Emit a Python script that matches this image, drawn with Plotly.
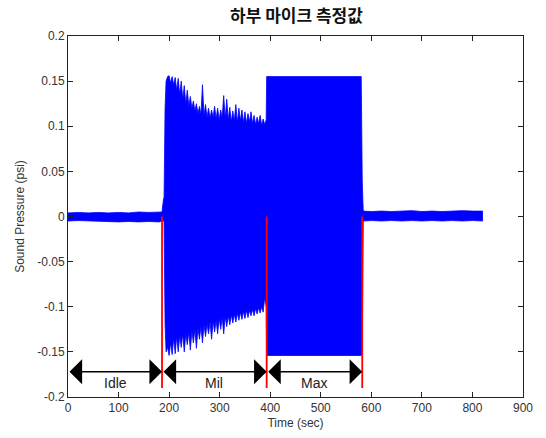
import plotly.graph_objects as go

# ---- data ----
env_time = [0, 20, 40, 60, 80, 100, 120, 140, 160, 180, 186, 189,
            190, 192, 194, 197, 200, 203, 206, 209, 212, 215, 218, 221, 224, 227, 230, 233, 236, 239,
            242, 245, 248, 251, 254, 257, 260, 263, 266, 269, 272, 275, 278, 281, 284, 287, 290, 293,
            296, 299, 302, 305, 308, 311, 314, 317, 320, 323, 326, 329, 332, 335, 338, 341, 344, 347,
            350, 353, 356, 359, 362, 365, 368, 371, 374, 377, 380, 383, 386, 389, 392,
            393, 450, 520, 580, 582,
            584, 600, 620, 640, 660, 680, 700, 720, 740, 760, 780, 800, 820]
env_upper = [0.004, 0.0045, 0.004, 0.0045, 0.004, 0.0045, 0.004, 0.005, 0.0045, 0.005, 0.005, 0.02,
             0.02, 0.12, 0.15, 0.155, 0.156, 0.148, 0.155, 0.146, 0.154, 0.14, 0.153, 0.135, 0.15, 0.13, 0.145, 0.125, 0.14, 0.122,
             0.133, 0.12, 0.128, 0.117, 0.125, 0.114, 0.122, 0.113, 0.146, 0.112, 0.124, 0.11, 0.12, 0.109, 0.118, 0.11, 0.122, 0.108,
             0.12, 0.107, 0.118, 0.11, 0.134, 0.108, 0.13, 0.107, 0.121, 0.105, 0.117, 0.106, 0.124, 0.104, 0.12, 0.106, 0.118, 0.104,
             0.116, 0.103, 0.114, 0.105, 0.116, 0.103, 0.112, 0.102, 0.11, 0.103, 0.112, 0.101, 0.108, 0.102, 0.107,
             0.155, 0.155, 0.155, 0.155, 0.04,
             0.006, 0.0055, 0.006, 0.0055, 0.006, 0.0065, 0.0055, 0.006, 0.0055, 0.006, 0.0065, 0.006, 0.006]
env_lower = [-0.005, -0.0045, -0.005, -0.005, -0.0055, -0.006, -0.0055, -0.006, -0.0055, -0.006, -0.005, -0.005,
             -0.005, -0.12, -0.15, -0.145, -0.154, -0.14, -0.153, -0.135, -0.152, -0.133, -0.15, -0.132, -0.145, -0.13, -0.15, -0.13, -0.142, -0.128,
             -0.148, -0.127, -0.14, -0.125, -0.146, -0.124, -0.136, -0.122, -0.14, -0.12, -0.133, -0.119, -0.13, -0.117, -0.136, -0.116, -0.128, -0.115,
             -0.13, -0.113, -0.125, -0.112, -0.13, -0.111, -0.122, -0.11, -0.12, -0.109, -0.118, -0.108, -0.117, -0.107, -0.115, -0.106, -0.114, -0.105,
             -0.113, -0.104, -0.112, -0.104, -0.11, -0.103, -0.11, -0.102, -0.108, -0.101, -0.107, -0.1, -0.106, -0.09, -0.1,
             -0.154, -0.154, -0.154, -0.154, -0.152,
             -0.005, -0.0045, -0.005, -0.0045, -0.005, -0.0045, -0.005, -0.0045, -0.005, -0.0045, -0.005, -0.0045, -0.005]

phase_bounds = [0, 186, 393, 582]
phase_labels = ["Idle", "Mil", "Max"]
marker_line_top = 0.0
marker_line_bottom = -0.19
arrow_level = -0.172
label_level = -0.185

x_ticks = [0, 100, 200, 300, 400, 500, 600, 700, 800, 900]
y_ticks = [0.2, 0.15, 0.1, 0.05, 0, -0.05, -0.1, -0.15, -0.2]
y_tick_text = ["0.2", "0.15", "0.1", "0.05", "0", "-0.05", "-0.1", "-0.15", "-0.2"]

title_text = "하부 마이크 측정값"
x_title = "Time (sec)"
y_title = "Sound Pressure (psi)"

# ---- figure ----
BLUE = "#0000FF"
fig = go.Figure()

fig.add_trace(go.Scatter(
    x=env_time + env_time[::-1],
    y=env_upper + env_lower[::-1],
    fill="toself", fillcolor=BLUE, mode="lines",
    line=dict(color=BLUE, width=0.8), hoverinfo="skip", showlegend=False))

# red phase separators
rx, ry = [], []
for t in phase_bounds[1:]:
    rx += [t, t, None]
    ry += [marker_line_top, marker_line_bottom, None]
fig.add_trace(go.Scatter(x=rx, y=ry, mode="lines",
                         line=dict(color="#FF0000", width=1.8),
                         hoverinfo="skip", showlegend=False))

# double-headed arrows and labels
for i, lab in enumerate(phase_labels):
    a, b = phase_bounds[i], phase_bounds[i + 1]
    fig.add_annotation(x=b, y=arrow_level, ax=a, ay=arrow_level,
                       xref="x", yref="y", axref="x", ayref="y",
                       text="", showarrow=True, arrowhead=1, startarrowhead=1,
                       arrowside="end+start", arrowsize=3, startarrowsize=3,
                       arrowwidth=1.4, arrowcolor="black", standoff=0, startstandoff=0)
    fig.add_annotation(x=(a + b) / 2, y=label_level, xref="x", yref="y",
                       text=lab, showarrow=False,
                       font=dict(family="Liberation Sans, Arial", size=14, color="#222"))

axis_common = dict(showline=True, linecolor="#222", linewidth=1, mirror="ticks",
                   ticks="inside", ticklen=5, tickcolor="#222", showgrid=False,
                   zeroline=False, automargin=False,
                   tickfont=dict(family="Liberation Sans, Arial", size=12, color="#333"))

fig.update_xaxes(range=[0, 900], tickvals=x_ticks, **axis_common,
                 title=dict(text=x_title, standoff=4,
                            font=dict(family="Liberation Sans, Arial", size=12, color="#333")))
fig.update_yaxes(range=[-0.2, 0.2], tickvals=y_ticks, ticktext=y_tick_text, **axis_common,
                 title=dict(text=y_title, standoff=10,
                            font=dict(family="Liberation Sans, Arial", size=12, color="#333")))

fig.update_layout(
    width=546, height=438,
    margin=dict(l=68, r=23, t=36, b=41),
    paper_bgcolor="white", plot_bgcolor="white",
    title=dict(text="<b>" + title_text + "</b>", x=0.543, xanchor="center",
               y=1 - 16 / 438, yanchor="middle",
               font=dict(family="Noto Sans CJK KR", size=17, color="#111")),
)

fig.write_html("out.html", config={"displayModeBar": False},
               post_script="document.body.style.margin='0';")
